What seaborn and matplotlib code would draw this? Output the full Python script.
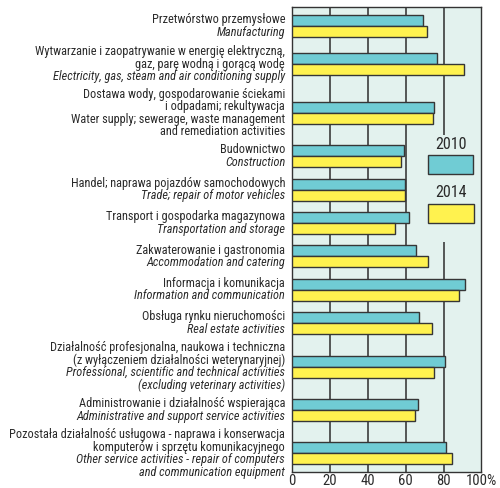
import numpy as np
import pandas as pd
import seaborn as sns
import matplotlib
import matplotlib.pyplot as plt
from matplotlib.patches import Rectangle

plt.rcParams['font.family'] = ['Roboto Condensed', 'DejaVu Sans']

# ---------------- data ----------------
years = ['2010', '2014']
values_2010 = [69.0, 76.7, 75.0, 59.1, 59.5, 62.0, 65.4, 91.5, 66.9, 80.6, 66.3, 81.5]
values_2014 = [71.1, 90.6, 74.4, 57.4, 59.7, 54.2, 71.6, 88.1, 73.9, 75.1, 64.7, 84.4]

# each sector label: list of (line text, italic?)
sector_labels = [
    [("Przetwórstwo przemysłowe", False), ("Manufacturing", True)],
    [("Wytwarzanie i zaopatrywanie w energię elektryczną,", False),
     ("gaz, parę wodną i gorącą wodę", False),
     ("Electricity, gas, steam and air conditioning supply", True)],
    [("Dostawa wody, gospodarowanie ściekami", False),
     ("i odpadami; rekultywacja", False),
     ("Water supply; sewerage, waste management", False),
     ("and remediation activities", False)],
    [("Budownictwo", False), ("Construction", True)],
    [("Handel; naprawa pojazdów samochodowych", False),
     ("Trade; repair of motor vehicles", True)],
    [("Transport i gospodarka magazynowa", False),
     ("Transportation and storage", True)],
    [("Zakwaterowanie i gastronomia", False),
     ("Accommodation and catering", True)],
    [("Informacja i komunikacja", False),
     ("Information and communication", True)],
    [("Obsługa rynku nieruchomości", False),
     ("Real estate activities", True)],
    [("Działalność profesjonalna, naukowa i techniczna", False),
     ("(z wyłączeniem działalności weterynaryjnej)", False),
     ("Professional, scientific and technical activities", True),
     ("(excluding veterinary activities)", True)],
    [("Administrowanie i działalność wspierająca", False),
     ("Administrative and support service activities", True)],
    [("Pozostała działalność usługowa - naprawa i konserwacja", False),
     ("komputerów i sprzętu komunikacyjnego", False),
     ("Other service activities - repair of computers", True),
     ("and communication equipment", True)],
]
tick_values = [0, 20, 40, 60, 80, 100]
tick_labels = ["0", "20", "40", "60", "80", "100%"]

# ---------------- layout derived from label line counts ----------------
n_lines = np.array([len(l) for l in sector_labels])
LINE_STEP = 10.0
GROUP_GAP = 13.4
steps = LINE_STEP * (n_lines[:-1] + n_lines[1:]) / 2 + GROUP_GAP
ypos = np.concatenate([[0.0], np.cumsum(steps)])

rows = []
for i, y in enumerate(ypos):
    rows.append({'pos': y, 'value': values_2010[i], 'year': years[0]})
    rows.append({'pos': y, 'value': values_2014[i], 'year': years[1]})
df = pd.DataFrame(rows)

teal = '#70ccd4'
yellow = '#fff24f'
bg = '#e3f2ee'
edge = '#363636'
txtc = '#2a2a2a'

fig = plt.figure(figsize=(5.0, 4.88), dpi=100)
ax = fig.add_axes([0.5846, 0.0322, 0.9626 - 0.5846, 0.9863 - 0.0322])
ax.set_facecolor(bg)

bar_w = 22.0 / np.min(np.diff(ypos))
sns.barplot(data=df, x='value', y='pos', hue='year', hue_order=years,
            orient='h', native_scale=True, width=bar_w, saturation=1,
            palette=[teal, yellow], edgecolor=edge, linewidth=1.0,
            legend=False, ax=ax, zorder=3)

ax.set_xlim(0, 100)
ax.set_ylim(ypos[-1] + 19, ypos[0] - 19.3)

# grid
for v in tick_values[1:-1]:
    ax.axvline(v, color='#3c3c3c', lw=1.2, zorder=1)

ax.set_xticks(tick_values)
ax.set_xticklabels(tick_labels, fontsize=10.5, color=txtc)
ax.tick_params(axis='x', length=0, pad=1.5)
ax.set_yticks([])
ax.set_xlabel('')
ax.set_ylabel('')
for s in ax.spines.values():
    s.set_color('#333333')
    s.set_linewidth(1.0)

# category labels
LINE_H = 12.5
for y, lines in zip(ypos, sector_labels):
    n = len(lines)
    for k, (txt, it) in enumerate(lines):
        ly = y + (k - (n - 1) / 2) * LINE_H
        ax.text(-3.8, ly, txt, ha='right', va='center', fontsize=8.8,
                style='italic' if it else 'normal', color=txtc,
                clip_on=False)

# legend (label above swatch), covering grid behind it
ax.add_patch(Rectangle((0.69, 0.495), 0.295, 0.23, transform=ax.transAxes,
                       facecolor=bg, edgecolor='none', zorder=2))
ax.text(0.84, 0.705, years[0], transform=ax.transAxes, ha='center', va='center',
        fontsize=11.5, color=txtc, zorder=4)
ax.add_patch(Rectangle((0.716, 0.640), 0.242, 0.041, transform=ax.transAxes,
                       facecolor=teal, edgecolor=edge, lw=1.0, zorder=4))
ax.text(0.84, 0.600, years[1], transform=ax.transAxes, ha='center', va='center',
        fontsize=11.5, color=txtc, zorder=4)
ax.add_patch(Rectangle((0.718, 0.536), 0.242, 0.041, transform=ax.transAxes,
                       facecolor=yellow, edgecolor=edge, lw=1.0, zorder=4))

fig.savefig('out.png', dpi=100)
